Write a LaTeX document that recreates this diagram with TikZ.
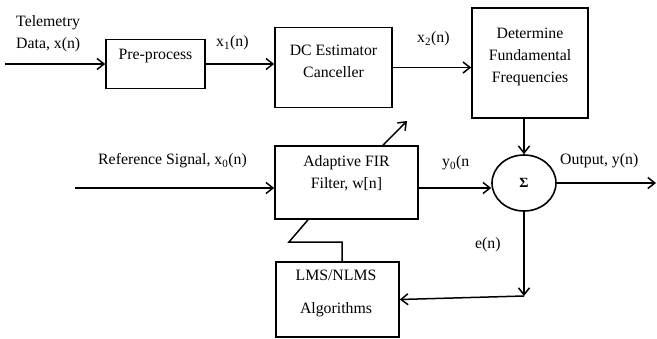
\documentclass[tikz,border=0pt]{standalone}
\usepackage{fontspec}
\setmainfont{Liberation Serif}
\usetikzlibrary{arrows.meta,shapes.geometric}
\begin{document}
\begin{tikzpicture}[x=1pt,y=-1pt,
  blockbox/.style={draw,line width=1.6pt,minimum width=#1,inner sep=0pt},
  txt/.style={font=\fontsize{15.8}{22}\selectfont,inner sep=0pt,align=center},
  flow/.style={line width=1.5pt,-{Straight Barb[length=7pt,width=11pt,line width=1.5pt]}},
  wire/.style={line width=1.5pt}]
\useasboundingbox (0,0) rectangle (657,338);

% blocks
\node[blockbox=99pt,minimum height=49pt] (pre) at (155.5,64) {};
\node[blockbox=117pt,minimum height=80pt] (dc) at (333.5,67.5) {};
\node[blockbox=116pt,minimum height=110pt] (det) at (530,63) {};
\node[blockbox=143pt,minimum height=73pt] (fir) at (346.5,182.5) {};
\node[blockbox=123pt,minimum height=75pt] (lms) at (337.5,299.5) {};
\node[draw,ellipse,line width=1.6pt,minimum width=64pt,minimum height=56pt,inner sep=0pt] (sig) at (524,183) {\fontsize{14}{16}\selectfont\textbf{Σ}};

% block texts
\node[txt] (pretext) at (155.5,56) {Pre-process};
\node[txt] (dctext) at (333.5,61) {DC Estimator\\Canceller};
\node[txt] (dettext) at (530,57) {Determine\\Fundamental\\Frequencies};
\node[txt] (firtext) at (346.5,173.5) {Adaptive FIR\\Filter, w[n]};
\node[txt,font=\fontsize{15.8}{33}\selectfont] (lmstext) at (336,293.5) {LMS/NLMS\\Algorithms};

% signal labels
\node[txt,align=left,anchor=west] (telem) at (16,34) {Telemetry\\Data, x(n)};
\node[txt,anchor=west] (x1) at (216,43) {x\textsubscript{1}(n)};
\node[txt,anchor=west] (x2) at (417,39) {x\textsubscript{2}(n)};
\node[txt,anchor=west] (reflab) at (98,161) {Reference Signal, x\textsubscript{0}(n)};
\node[txt,anchor=west] (y0) at (442,163) {y\textsubscript{0}(n};
\node[txt,anchor=west] (outlab) at (560,161) {Output, y(n)};
\node[txt,anchor=west] (elab) at (475,245) {e(n)};

% free ends and bends
\coordinate (tin) at (5,64);
\coordinate (rin) at (75,188);
\coordinate (out) at (656,183);
\coordinate (ecorner) at (524,296);
\coordinate (lmsup) at (342,242);
\coordinate (kink) at (289,242);
\coordinate (firin) at (308,219);
\coordinate (adapt) at (383,146);
\coordinate (adapttip) at (407,121);

% connectors
\draw[flow] (tin) -- (pre.west);
\draw[flow] (pre.east) -- (dc.west |- pre.east);
\draw[flow] (dc.east) -- (det.west |- dc.east);
\draw[flow] (sig.north |- det.south) -- (sig.north);
\draw[flow] (rin) -- (fir.west |- rin);
\draw[flow] (fir.east |- rin) -- (sig.west |- rin);
\draw[flow] (sig.east) -- (out);
\draw[flow] (sig.south) -- (ecorner);
\draw[flow] (ecorner) -- (lms.east);
\draw[wire] (lms.north -| lmsup) -- (lmsup) -- (kink) -- (fir.south -| firin);
\draw[flow] (fir.north -| adapt) -- (adapttip);
\end{tikzpicture}
\end{document}
